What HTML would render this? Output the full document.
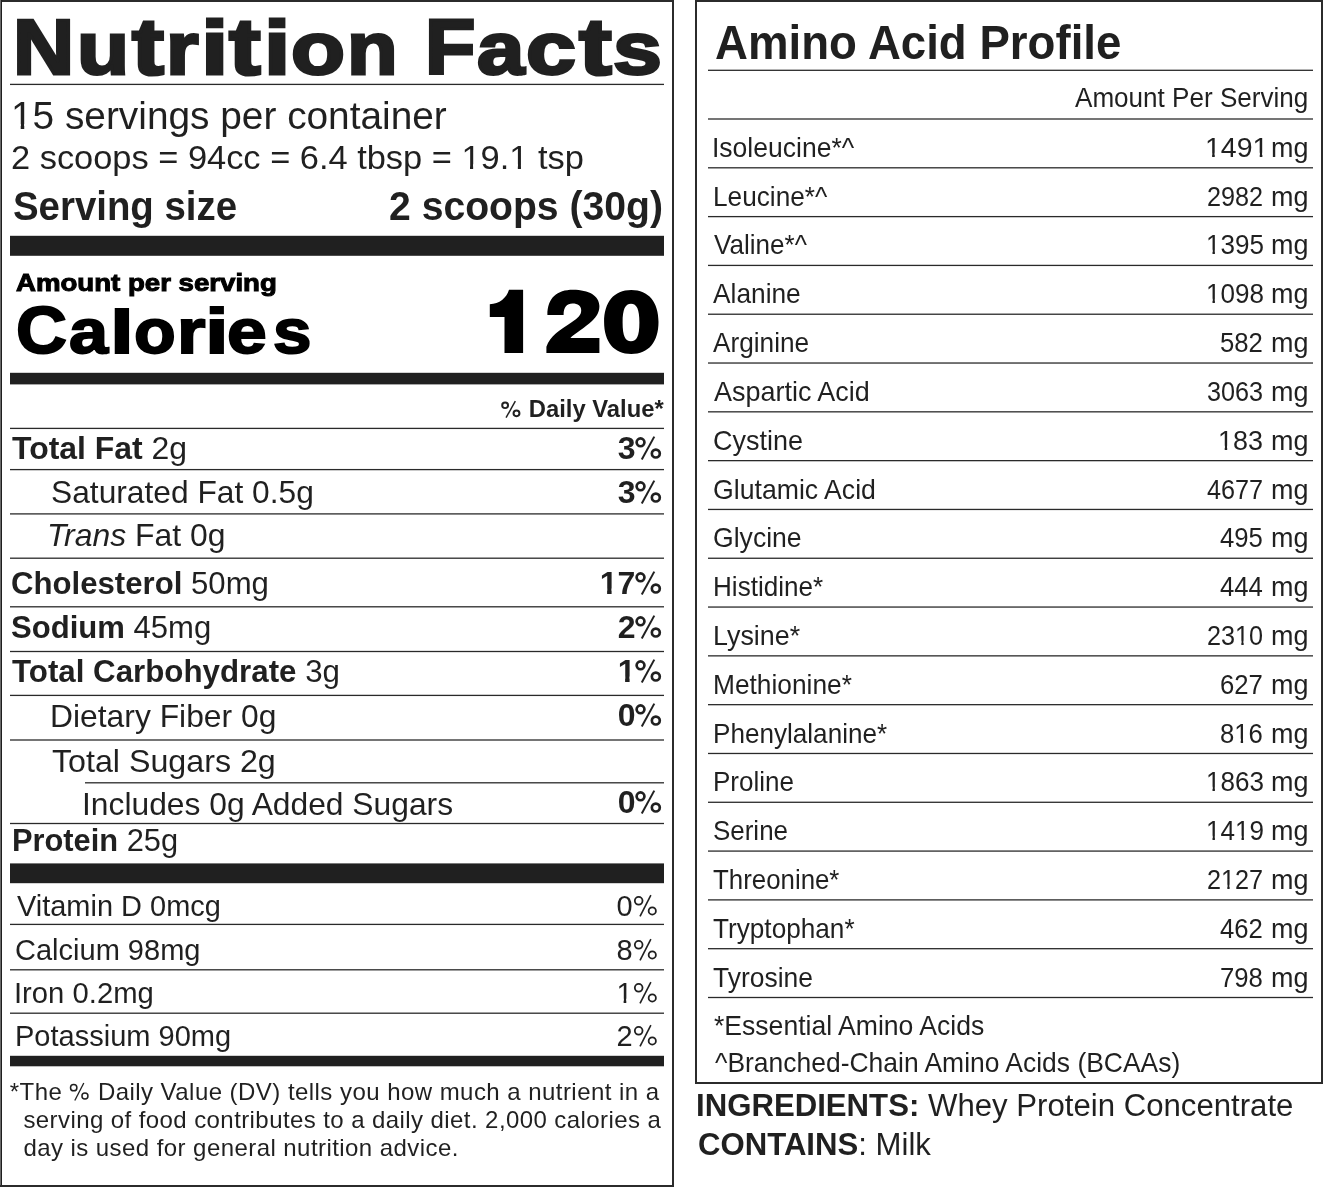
<!DOCTYPE html>
<html><head><meta charset="utf-8"><style>
html,body{margin:0;padding:0;background:#fff;}
body{position:relative;overflow:hidden;font-family:"Liberation Sans",sans-serif;}
#w{position:absolute;left:0;top:0;width:1324px;height:1188px;background:#fff;filter:grayscale(1);}
.t{position:absolute;white-space:nowrap;transform-origin:0 0;}
.t b{font-weight:700} .t i{font-style:italic}
.r{position:absolute}
body{width:1324px;height:1188px;}
</style></head><body><div id="w">
<div class="r" style="left:0px;top:0px;width:674px;height:2px;background:#2b2b2b"></div>
<div class="r" style="left:0px;top:0px;width:1px;height:1187px;background:#6a6a6a"></div>
<div class="r" style="left:1px;top:0px;width:1px;height:1187px;background:#1e1e1e"></div>
<div class="r" style="left:672px;top:0px;width:2px;height:1187px;background:#2b2b2b"></div>
<div class="r" style="left:0px;top:1185px;width:674px;height:2px;background:#2b2b2b"></div>
<div class="r" style="left:10px;top:83px;width:654px;height:1px;background:rgb(202, 202, 202)"></div>
<div class="r" style="left:10px;top:84px;width:654px;height:1px;background:rgb(42, 42, 42)"></div>
<div class="r" style="left:10px;top:85px;width:654px;height:1px;background:rgb(244, 244, 244)"></div>
<div class="r" style="left:10px;top:236px;width:654px;height:19px;background:rgb(35, 31, 32)"></div>
<div class="r" style="left:10px;top:235px;width:654px;height:1px;background:rgb(211, 210, 210)"></div>
<div class="r" style="left:10px;top:255px;width:654px;height:1px;background:rgb(79, 76, 77)"></div>
<div class="r" style="left:10px;top:373px;width:654px;height:11px;background:rgb(35, 31, 32)"></div>
<div class="r" style="left:10px;top:372px;width:654px;height:1px;background:rgb(211, 210, 210)"></div>
<div class="r" style="left:10px;top:384px;width:654px;height:1px;background:rgb(167, 165, 166)"></div>
<div class="r" style="left:10px;top:427px;width:654px;height:1px;background:rgb(202, 202, 202)"></div>
<div class="r" style="left:10px;top:428px;width:654px;height:1px;background:rgb(42, 42, 42)"></div>
<div class="r" style="left:10px;top:429px;width:654px;height:1px;background:rgb(244, 244, 244)"></div>
<div class="r" style="left:10px;top:468px;width:654px;height:1px;background:rgb(244, 244, 244)"></div>
<div class="r" style="left:10px;top:469px;width:654px;height:1px;background:rgb(42, 42, 42)"></div>
<div class="r" style="left:10px;top:470px;width:654px;height:1px;background:rgb(202, 202, 202)"></div>
<div class="r" style="left:10px;top:513px;width:654px;height:1px;background:rgb(95, 95, 95)"></div>
<div class="r" style="left:10px;top:514px;width:654px;height:1px;background:rgb(138, 138, 138)"></div>
<div class="r" style="left:10px;top:557px;width:654px;height:1px;background:rgb(159, 159, 159)"></div>
<div class="r" style="left:10px;top:558px;width:654px;height:1px;background:rgb(74, 74, 74)"></div>
<div class="r" style="left:10px;top:606px;width:654px;height:1px;background:rgb(74, 74, 74)"></div>
<div class="r" style="left:10px;top:607px;width:654px;height:1px;background:rgb(159, 159, 159)"></div>
<div class="r" style="left:10px;top:650px;width:654px;height:1px;background:rgb(223, 223, 223)"></div>
<div class="r" style="left:10px;top:651px;width:654px;height:1px;background:rgb(42, 42, 42)"></div>
<div class="r" style="left:10px;top:652px;width:654px;height:1px;background:rgb(223, 223, 223)"></div>
<div class="r" style="left:10px;top:694px;width:654px;height:1px;background:rgb(202, 202, 202)"></div>
<div class="r" style="left:10px;top:695px;width:654px;height:1px;background:rgb(42, 42, 42)"></div>
<div class="r" style="left:10px;top:696px;width:654px;height:1px;background:rgb(244, 244, 244)"></div>
<div class="r" style="left:10px;top:739px;width:654px;height:1px;background:rgb(117, 117, 117)"></div>
<div class="r" style="left:10px;top:740px;width:654px;height:1px;background:rgb(117, 117, 117)"></div>
<div class="r" style="left:10px;top:822px;width:654px;height:1px;background:rgb(223, 223, 223)"></div>
<div class="r" style="left:10px;top:823px;width:654px;height:1px;background:rgb(42, 42, 42)"></div>
<div class="r" style="left:10px;top:824px;width:654px;height:1px;background:rgb(223, 223, 223)"></div>
<div class="r" style="left:85px;top:782px;width:579px;height:1px;background:rgb(74, 74, 74)"></div>
<div class="r" style="left:85px;top:783px;width:579px;height:1px;background:rgb(159, 159, 159)"></div>
<div class="r" style="left:10px;top:864px;width:654px;height:19px;background:rgb(35, 31, 32)"></div>
<div class="r" style="left:10px;top:863px;width:654px;height:1px;background:rgb(123, 121, 121)"></div>
<div class="r" style="left:10px;top:883px;width:654px;height:1px;background:rgb(211, 210, 210)"></div>
<div class="r" style="left:10px;top:923px;width:654px;height:1px;background:rgb(202, 202, 202)"></div>
<div class="r" style="left:10px;top:924px;width:654px;height:1px;background:rgb(42, 42, 42)"></div>
<div class="r" style="left:10px;top:925px;width:654px;height:1px;background:rgb(244, 244, 244)"></div>
<div class="r" style="left:10px;top:969px;width:654px;height:1px;background:rgb(74, 74, 74)"></div>
<div class="r" style="left:10px;top:970px;width:654px;height:1px;background:rgb(159, 159, 159)"></div>
<div class="r" style="left:10px;top:1012px;width:654px;height:1px;background:rgb(159, 159, 159)"></div>
<div class="r" style="left:10px;top:1013px;width:654px;height:1px;background:rgb(74, 74, 74)"></div>
<div class="r" style="left:10px;top:1056px;width:654px;height:10px;background:rgb(35, 31, 32)"></div>
<div class="r" style="left:10px;top:1055px;width:654px;height:1px;background:rgb(211, 210, 210)"></div>
<div class="r" style="left:10px;top:1066px;width:654px;height:1px;background:rgb(189, 188, 188)"></div>
<div class="r" style="left:695px;top:0px;width:628px;height:2px;background:#2b2b2b"></div>
<div class="r" style="left:695px;top:0px;width:2px;height:1084px;background:#2b2b2b"></div>
<div class="r" style="left:1321px;top:0px;width:2px;height:1084px;background:#2b2b2b"></div>
<div class="r" style="left:695px;top:1082px;width:628px;height:2px;background:#2b2b2b"></div>
<div class="r" style="left:708px;top:69px;width:605px;height:1px;background:rgb(180, 180, 180)"></div>
<div class="r" style="left:708px;top:70px;width:605px;height:1px;background:rgb(53, 53, 53)"></div>
<div class="r" style="left:708px;top:118px;width:605px;height:1px;background:rgb(117, 117, 117)"></div>
<div class="r" style="left:708px;top:119px;width:605px;height:1px;background:rgb(117, 117, 117)"></div>
<div class="r" style="left:708px;top:167px;width:605px;height:1px;background:rgb(75, 75, 75)"></div>
<div class="r" style="left:708px;top:168px;width:605px;height:1px;background:rgb(158, 158, 158)"></div>
<div class="r" style="left:708px;top:215px;width:605px;height:1px;background:rgb(247, 247, 247)"></div>
<div class="r" style="left:708px;top:216px;width:605px;height:1px;background:rgb(42, 42, 42)"></div>
<div class="r" style="left:708px;top:217px;width:605px;height:1px;background:rgb(199, 199, 199)"></div>
<div class="r" style="left:708px;top:264px;width:605px;height:1px;background:rgb(205, 205, 205)"></div>
<div class="r" style="left:708px;top:265px;width:605px;height:1px;background:rgb(42, 42, 42)"></div>
<div class="r" style="left:708px;top:266px;width:605px;height:1px;background:rgb(241, 241, 241)"></div>
<div class="r" style="left:708px;top:313px;width:605px;height:1px;background:rgb(164, 164, 164)"></div>
<div class="r" style="left:708px;top:314px;width:605px;height:1px;background:rgb(69, 69, 69)"></div>
<div class="r" style="left:708px;top:362px;width:605px;height:1px;background:rgb(122, 122, 122)"></div>
<div class="r" style="left:708px;top:363px;width:605px;height:1px;background:rgb(111, 111, 111)"></div>
<div class="r" style="left:708px;top:411px;width:605px;height:1px;background:rgb(81, 81, 81)"></div>
<div class="r" style="left:708px;top:412px;width:605px;height:1px;background:rgb(152, 152, 152)"></div>
<div class="r" style="left:708px;top:460px;width:605px;height:1px;background:rgb(42, 42, 42)"></div>
<div class="r" style="left:708px;top:461px;width:605px;height:1px;background:rgb(193, 193, 193)"></div>
<div class="r" style="left:708px;top:508px;width:605px;height:1px;background:rgb(211, 211, 211)"></div>
<div class="r" style="left:708px;top:509px;width:605px;height:1px;background:rgb(42, 42, 42)"></div>
<div class="r" style="left:708px;top:510px;width:605px;height:1px;background:rgb(235, 235, 235)"></div>
<div class="r" style="left:708px;top:557px;width:605px;height:1px;background:rgb(170, 170, 170)"></div>
<div class="r" style="left:708px;top:558px;width:605px;height:1px;background:rgb(63, 63, 63)"></div>
<div class="r" style="left:708px;top:606px;width:605px;height:1px;background:rgb(128, 128, 128)"></div>
<div class="r" style="left:708px;top:607px;width:605px;height:1px;background:rgb(105, 105, 105)"></div>
<div class="r" style="left:708px;top:655px;width:605px;height:1px;background:rgb(87, 87, 87)"></div>
<div class="r" style="left:708px;top:656px;width:605px;height:1px;background:rgb(146, 146, 146)"></div>
<div class="r" style="left:708px;top:704px;width:605px;height:1px;background:rgb(46, 46, 46)"></div>
<div class="r" style="left:708px;top:705px;width:605px;height:1px;background:rgb(188, 188, 188)"></div>
<div class="r" style="left:708px;top:752px;width:605px;height:1px;background:rgb(217, 217, 217)"></div>
<div class="r" style="left:708px;top:753px;width:605px;height:1px;background:rgb(42, 42, 42)"></div>
<div class="r" style="left:708px;top:754px;width:605px;height:1px;background:rgb(229, 229, 229)"></div>
<div class="r" style="left:708px;top:801px;width:605px;height:1px;background:rgb(176, 176, 176)"></div>
<div class="r" style="left:708px;top:802px;width:605px;height:1px;background:rgb(57, 57, 57)"></div>
<div class="r" style="left:708px;top:850px;width:605px;height:1px;background:rgb(134, 134, 134)"></div>
<div class="r" style="left:708px;top:851px;width:605px;height:1px;background:rgb(99, 99, 99)"></div>
<div class="r" style="left:708px;top:899px;width:605px;height:1px;background:rgb(93, 93, 93)"></div>
<div class="r" style="left:708px;top:900px;width:605px;height:1px;background:rgb(140, 140, 140)"></div>
<div class="r" style="left:708px;top:948px;width:605px;height:1px;background:rgb(51, 51, 51)"></div>
<div class="r" style="left:708px;top:949px;width:605px;height:1px;background:rgb(182, 182, 182)"></div>
<div class="r" style="left:708px;top:996px;width:605px;height:1px;background:rgb(223, 223, 223)"></div>
<div class="r" style="left:708px;top:997px;width:605px;height:1px;background:rgb(42, 42, 42)"></div>
<div class="r" style="left:708px;top:998px;width:605px;height:1px;background:rgb(223, 223, 223)"></div>
<div class="t" style="left:13.16px;top:8px;font-size:78px;line-height:78px;color:#231f20;-webkit-text-stroke:3px #231f20;transform-origin:0 66px;transform:scale(1.0857,1.0000);"><b>N</b></div>
<div class="t" style="left:77.31px;top:8px;font-size:78px;line-height:78px;color:#231f20;-webkit-text-stroke:3px #231f20;transform-origin:0 66px;transform:scale(1.0951,0.9400);"><b>u</b></div>
<div class="t" style="left:131.73px;top:8px;font-size:78px;line-height:78px;color:#231f20;-webkit-text-stroke:3px #231f20;transform-origin:0 66px;transform:scale(1.2296,1.0300);"><b>t</b></div>
<div class="t" style="left:166.10px;top:8px;font-size:78px;line-height:78px;color:#231f20;-webkit-text-stroke:3px #231f20;transform-origin:0 66px;transform:scale(1.0741,0.9400);"><b>r</b></div>
<div class="t" style="left:201.24px;top:8px;font-size:78px;line-height:78px;color:#231f20;-webkit-text-stroke:3px #231f20;transform-origin:0 66px;transform:scale(1.2643,0.9700);"><b>i</b></div>
<div class="t" style="left:229.22px;top:8px;font-size:78px;line-height:78px;color:#231f20;-webkit-text-stroke:3px #231f20;transform-origin:0 66px;transform:scale(1.2185,1.0300);"><b>t</b></div>
<div class="t" style="left:263.94px;top:8px;font-size:78px;line-height:78px;color:#231f20;-webkit-text-stroke:3px #231f20;transform-origin:0 66px;transform:scale(1.2143,0.9700);"><b>i</b></div>
<div class="t" style="left:291.43px;top:8px;font-size:78px;line-height:78px;color:#231f20;-webkit-text-stroke:3px #231f20;transform-origin:0 66px;transform:scale(1.1341,0.9400);"><b>o</b></div>
<div class="t" style="left:347.25px;top:8px;font-size:78px;line-height:78px;color:#231f20;-webkit-text-stroke:3px #231f20;transform-origin:0 66px;transform:scale(1.0625,0.9400);"><b>n</b></div>
<div class="t" style="left:425.17px;top:8px;font-size:78px;line-height:78px;color:#231f20;-webkit-text-stroke:3px #231f20;transform-origin:0 66px;transform:scale(1.0571,1.0000);"><b>F</b></div>
<div class="t" style="left:476.51px;top:8px;font-size:78px;line-height:78px;color:#231f20;-webkit-text-stroke:3px #231f20;transform-origin:0 66px;transform:scale(1.0932,0.9400);"><b>a</b></div>
<div class="t" style="left:526.30px;top:8px;font-size:78px;line-height:78px;color:#231f20;-webkit-text-stroke:3px #231f20;transform-origin:0 66px;transform:scale(1.1512,0.9400);"><b>c</b></div>
<div class="t" style="left:578.96px;top:8px;font-size:78px;line-height:78px;color:#231f20;-webkit-text-stroke:3px #231f20;transform-origin:0 66px;transform:scale(1.2593,1.0300);"><b>t</b></div>
<div class="t" style="left:613.37px;top:8px;font-size:78px;line-height:78px;color:#231f20;-webkit-text-stroke:3px #231f20;transform-origin:0 66px;transform:scale(1.1268,0.9400);"><b>s</b></div>
<div class="t" style="left:11.41px;top:97px;font-size:38px;line-height:38px;color:#231f20;transform:scaleX(1.0213);"><span style="display:inline-block;clip-path:polygon(-3px -60px,24.13px -60px,24.13px 26.96px,12.96px 26.96px,12.96px 98px,9.51px 98px,9.51px 26.96px,-3px 26.96px)">1</span>5 servings per container</div>
<div class="t" style="left:11.22px;top:141px;font-size:33px;line-height:33px;color:#231f20;transform:scaleX(1.0425);">2 scoops = 94cc = 6.4 tbsp = <span style="display:inline-block;clip-path:polygon(-3px -60px,21.35px -60px,21.35px 23.33px,11.26px 23.33px,11.26px 93px,8.25px 93px,8.25px 23.33px,-3px 23.33px)">1</span>9.<span style="display:inline-block;clip-path:polygon(-3px -60px,21.35px -60px,21.35px 23.33px,11.26px 23.33px,11.26px 93px,8.25px 93px,8.25px 23.33px,-3px 23.33px)">1</span> tsp</div>
<div class="t" style="left:12.94px;top:186px;font-size:40px;line-height:40px;color:#231f20;transform:scaleX(0.9597);"><b>Serving size</b></div>
<div class="t" style="left:389.02px;top:186px;font-size:40px;line-height:40px;color:#231f20;transform:scaleX(0.9783);"><b>2 scoops (30g)</b></div>
<div class="t" style="left:15.70px;top:271px;font-size:24px;line-height:24px;color:#000;-webkit-text-stroke:1px #000;transform:scaleX(1.1504);"><b>Amount per serving</b></div>
<div class="t" style="left:16.43px;top:295px;font-size:68px;line-height:68px;color:#000;-webkit-text-stroke:2px #000;transform-origin:0 58px;transform:scale(1.0370,0.9800);"><b>C</b></div>
<div class="t" style="left:68.77px;top:295px;font-size:68px;line-height:68px;color:#000;-webkit-text-stroke:2px #000;transform-origin:0 58px;transform:scale(1.0342,0.9300);"><b>a</b></div>
<div class="t" style="left:110.05px;top:295px;font-size:68px;line-height:68px;color:#000;-webkit-text-stroke:2px #000;transform-origin:0 58px;transform:scale(1.2636,0.9100);"><b>l</b></div>
<div class="t" style="left:133.69px;top:295px;font-size:68px;line-height:68px;color:#000;-webkit-text-stroke:2px #000;transform-origin:0 58px;transform:scale(1.0053,0.9300);"><b>o</b></div>
<div class="t" style="left:176.67px;top:295px;font-size:68px;line-height:68px;color:#000;-webkit-text-stroke:2px #000;transform-origin:0 58px;transform:scale(1.0783,0.9300);"><b>r</b></div>
<div class="t" style="left:205.18px;top:295px;font-size:68px;line-height:68px;color:#000;-webkit-text-stroke:2px #000;transform-origin:0 58px;transform:scale(1.2545,0.9300);"><b>i</b></div>
<div class="t" style="left:227.40px;top:295px;font-size:68px;line-height:68px;color:#000;-webkit-text-stroke:2px #000;transform-origin:0 58px;transform:scale(1.0514,0.9300);"><b>e</b></div>
<div class="t" style="left:272.58px;top:295px;font-size:68px;line-height:68px;color:#000;-webkit-text-stroke:2px #000;transform-origin:0 58px;transform:scale(1.0171,0.9300);"><b>s</b></div>
<div class="t" style="left:500.50px;top:398px;font-size:23px;line-height:23px;color:#231f20;transform:scaleX(1.0350);"><b><svg style="display:inline-block;width:0.889em;height:0.75em;vertical-align:baseline;overflow:visible" viewBox="0 0 889 750"><g fill="none" stroke="currentColor"><circle cx="173" cy="230" r="122" stroke-width="84"/><circle cx="651" cy="580" r="124" stroke-width="84"/><line x1="603" y1="50" x2="212" y2="766" stroke-width="62"/></g></svg> Daily Value*</b></div>
<div class="t" style="left:11.80px;top:432px;font-size:32px;line-height:32px;color:#231f20;transform:scaleX(0.9983);"><b>Total Fat</b> 2g</div>
<div class="t" style="left:617.70px;top:432px;font-size:32px;line-height:32px;color:#231f20;"><b>3<svg style="display:inline-block;width:0.889em;height:0.75em;vertical-align:baseline;overflow:visible" viewBox="0 0 889 750"><g fill="none" stroke="currentColor"><circle cx="173" cy="230" r="122" stroke-width="84"/><circle cx="651" cy="580" r="124" stroke-width="84"/><line x1="603" y1="50" x2="212" y2="766" stroke-width="62"/></g></svg></b></div>
<div class="t" style="left:51.22px;top:476px;font-size:32px;line-height:32px;color:#231f20;transform:scaleX(0.9916);">Saturated Fat 0.5g</div>
<div class="t" style="left:617.70px;top:476px;font-size:32px;line-height:32px;color:#231f20;"><b>3<svg style="display:inline-block;width:0.889em;height:0.75em;vertical-align:baseline;overflow:visible" viewBox="0 0 889 750"><g fill="none" stroke="currentColor"><circle cx="173" cy="230" r="122" stroke-width="84"/><circle cx="651" cy="580" r="124" stroke-width="84"/><line x1="603" y1="50" x2="212" y2="766" stroke-width="62"/></g></svg></b></div>
<div class="t" style="left:47.01px;top:519px;font-size:32px;line-height:32px;color:#231f20;transform:scaleX(0.9966);"><i>Trans</i> Fat 0g</div>
<div class="t" style="left:11.03px;top:567px;font-size:32px;line-height:32px;color:#231f20;transform:scaleX(0.9733);"><b>Cholesterol</b> 50mg</div>
<div class="t" style="left:599.70px;top:567px;font-size:32px;line-height:32px;color:#231f20;"><b><span style="display:inline-block;clip-path:polygon(-3px -60px,20.80px -60px,20.80px 21.53px,11.91px 21.53px,11.91px 92px,7.42px 92px,7.42px 21.53px,-3px 21.53px)">1</span>7<svg style="display:inline-block;width:0.889em;height:0.75em;vertical-align:baseline;overflow:visible" viewBox="0 0 889 750"><g fill="none" stroke="currentColor"><circle cx="173" cy="230" r="122" stroke-width="84"/><circle cx="651" cy="580" r="124" stroke-width="84"/><line x1="603" y1="50" x2="212" y2="766" stroke-width="62"/></g></svg></b></div>
<div class="t" style="left:11.03px;top:611px;font-size:32px;line-height:32px;color:#231f20;transform:scaleX(0.9704);"><b>Sodium</b> 45mg</div>
<div class="t" style="left:617.70px;top:611px;font-size:32px;line-height:32px;color:#231f20;"><b>2<svg style="display:inline-block;width:0.889em;height:0.75em;vertical-align:baseline;overflow:visible" viewBox="0 0 889 750"><g fill="none" stroke="currentColor"><circle cx="173" cy="230" r="122" stroke-width="84"/><circle cx="651" cy="580" r="124" stroke-width="84"/><line x1="603" y1="50" x2="212" y2="766" stroke-width="62"/></g></svg></b></div>
<div class="t" style="left:12.00px;top:655px;font-size:32px;line-height:32px;color:#231f20;transform:scaleX(0.9775);"><b>Total Carbohydrate</b> 3g</div>
<div class="t" style="left:617.70px;top:655px;font-size:32px;line-height:32px;color:#231f20;"><b><span style="display:inline-block;clip-path:polygon(-3px -60px,20.80px -60px,20.80px 21.53px,11.91px 21.53px,11.91px 92px,7.42px 92px,7.42px 21.53px,-3px 21.53px)">1</span><svg style="display:inline-block;width:0.889em;height:0.75em;vertical-align:baseline;overflow:visible" viewBox="0 0 889 750"><g fill="none" stroke="currentColor"><circle cx="173" cy="230" r="122" stroke-width="84"/><circle cx="651" cy="580" r="124" stroke-width="84"/><line x1="603" y1="50" x2="212" y2="766" stroke-width="62"/></g></svg></b></div>
<div class="t" style="left:49.62px;top:700px;font-size:32px;line-height:32px;color:#231f20;transform:scaleX(0.9946);">Dietary Fiber 0g</div>
<div class="t" style="left:617.70px;top:699px;font-size:32px;line-height:32px;color:#231f20;"><b>0<svg style="display:inline-block;width:0.889em;height:0.75em;vertical-align:baseline;overflow:visible" viewBox="0 0 889 750"><g fill="none" stroke="currentColor"><circle cx="173" cy="230" r="122" stroke-width="84"/><circle cx="651" cy="580" r="124" stroke-width="84"/><line x1="603" y1="50" x2="212" y2="766" stroke-width="62"/></g></svg></b></div>
<div class="t" style="left:51.59px;top:745px;font-size:32px;line-height:32px;color:#231f20;transform:scaleX(1.0064);">Total Sugars 2g</div>
<div class="t" style="left:81.72px;top:788px;font-size:32px;line-height:32px;color:#231f20;transform:scaleX(0.9932);">Includes 0g Added Sugars</div>
<div class="t" style="left:617.70px;top:786px;font-size:32px;line-height:32px;color:#231f20;"><b>0<svg style="display:inline-block;width:0.889em;height:0.75em;vertical-align:baseline;overflow:visible" viewBox="0 0 889 750"><g fill="none" stroke="currentColor"><circle cx="173" cy="230" r="122" stroke-width="84"/><circle cx="651" cy="580" r="124" stroke-width="84"/><line x1="603" y1="50" x2="212" y2="766" stroke-width="62"/></g></svg></b></div>
<div class="t" style="left:12.07px;top:824px;font-size:32px;line-height:32px;color:#231f20;transform:scaleX(0.9627);"><b>Protein</b> 25g</div>
<div class="t" style="left:16.70px;top:892px;font-size:29px;line-height:29px;color:#231f20;transform:scaleX(0.9985);">Vitamin D 0mcg</div>
<div class="t" style="left:616.40px;top:892px;font-size:29px;line-height:29px;color:#231f20;">0<svg style="display:inline-block;width:0.889em;height:0.75em;vertical-align:baseline;overflow:visible" viewBox="0 0 889 750"><g fill="none" stroke="currentColor"><circle cx="196" cy="235" r="133" stroke-width="62"/><circle cx="665" cy="583" r="125" stroke-width="62"/><line x1="617" y1="40" x2="242" y2="768" stroke-width="55"/></g></svg></div>
<div class="t" style="left:15.30px;top:936px;font-size:29px;line-height:29px;color:#231f20;transform:scaleX(1.0005);">Calcium 98mg</div>
<div class="t" style="left:616.40px;top:936px;font-size:29px;line-height:29px;color:#231f20;">8<svg style="display:inline-block;width:0.889em;height:0.75em;vertical-align:baseline;overflow:visible" viewBox="0 0 889 750"><g fill="none" stroke="currentColor"><circle cx="196" cy="235" r="133" stroke-width="62"/><circle cx="665" cy="583" r="125" stroke-width="62"/><line x1="617" y1="40" x2="242" y2="768" stroke-width="55"/></g></svg></div>
<div class="t" style="left:14.18px;top:979px;font-size:29px;line-height:29px;color:#231f20;transform:scaleX(1.0082);">Iron 0.2mg</div>
<div class="t" style="left:616.40px;top:979px;font-size:29px;line-height:29px;color:#231f20;"><span style="display:inline-block;clip-path:polygon(-3px -60px,19.13px -60px,19.13px 19.63px,9.91px 19.63px,9.91px 89px,7.24px 89px,7.24px 19.63px,-3px 19.63px)">1</span><svg style="display:inline-block;width:0.889em;height:0.75em;vertical-align:baseline;overflow:visible" viewBox="0 0 889 750"><g fill="none" stroke="currentColor"><circle cx="196" cy="235" r="133" stroke-width="62"/><circle cx="665" cy="583" r="125" stroke-width="62"/><line x1="617" y1="40" x2="242" y2="768" stroke-width="55"/></g></svg></div>
<div class="t" style="left:15.20px;top:1022px;font-size:29px;line-height:29px;color:#231f20;transform:scaleX(1.0005);">Potassium 90mg</div>
<div class="t" style="left:616.40px;top:1022px;font-size:29px;line-height:29px;color:#231f20;">2<svg style="display:inline-block;width:0.889em;height:0.75em;vertical-align:baseline;overflow:visible" viewBox="0 0 889 750"><g fill="none" stroke="currentColor"><circle cx="196" cy="235" r="133" stroke-width="62"/><circle cx="665" cy="583" r="125" stroke-width="62"/><line x1="617" y1="40" x2="242" y2="768" stroke-width="55"/></g></svg></div>
<div class="t" style="left:9.80px;top:1080px;font-size:24px;line-height:24px;color:#231f20;letter-spacing:0.454px;">*The <svg style="display:inline-block;width:0.889em;height:0.75em;vertical-align:baseline;overflow:visible" viewBox="0 0 889 750"><g fill="none" stroke="currentColor"><circle cx="196" cy="235" r="133" stroke-width="62"/><circle cx="665" cy="583" r="125" stroke-width="62"/><line x1="617" y1="40" x2="242" y2="768" stroke-width="55"/></g></svg> Daily Value (DV) tells you how much a nutrient in a</div>
<div class="t" style="left:23.40px;top:1108px;font-size:24px;line-height:24px;color:#231f20;letter-spacing:0.418px;">serving of food contributes to a daily diet. 2,000 calories a</div>
<div class="t" style="left:23.40px;top:1136px;font-size:24px;line-height:24px;color:#231f20;letter-spacing:0.435px;">day is used for general nutrition advice.</div>
<div class="t" style="left:715.37px;top:18px;font-size:49px;line-height:49px;color:#231f20;transform:scaleX(0.9309);"><b>Amino Acid Profile</b></div>
<div class="t" style="left:1074.70px;top:85px;font-size:27px;line-height:27px;color:#231f20;transform:scaleX(0.9658);">Amount Per Serving</div>
<div class="t" style="left:711.96px;top:134px;font-size:28px;line-height:28px;color:#231f20;transform:scaleX(0.9469);">Isoleucine*^</div>
<div class="t" style="left:1205.24px;top:134px;font-size:28px;line-height:28px;color:#231f20;transform:scaleX(1.0189);"><span style="display:inline-block;clip-path:polygon(-3px -60px,18.57px -60px,18.57px 18.71px,9.57px 18.71px,9.57px 88px,6.99px 88px,6.99px 18.71px,-3px 18.71px)">1</span>49<span style="display:inline-block;clip-path:polygon(-3px -60px,18.57px -60px,18.57px 18.71px,9.57px 18.71px,9.57px 88px,6.99px 88px,6.99px 18.71px,-3px 18.71px)">1</span></div>
<div class="t" style="left:1270.57px;top:134px;font-size:28px;line-height:28px;color:#231f20;transform:scaleX(0.9629);">mg</div>
<div class="t" style="left:712.63px;top:183px;font-size:28px;line-height:28px;color:#231f20;transform:scaleX(0.9367);">Leucine*^</div>
<div class="t" style="left:1207.40px;top:183px;font-size:28px;line-height:28px;color:#231f20;transform:scaleX(0.9000);">2982</div>
<div class="t" style="left:1270.57px;top:183px;font-size:28px;line-height:28px;color:#231f20;transform:scaleX(0.9629);">mg</div>
<div class="t" style="left:714.10px;top:231px;font-size:28px;line-height:28px;color:#231f20;transform:scaleX(0.9310);">Valine*^</div>
<div class="t" style="left:1205.51px;top:231px;font-size:28px;line-height:28px;color:#231f20;transform:scaleX(0.9310);"><span style="display:inline-block;clip-path:polygon(-3px -60px,18.57px -60px,18.57px 18.71px,9.57px 18.71px,9.57px 88px,6.99px 88px,6.99px 18.71px,-3px 18.71px)">1</span>395</div>
<div class="t" style="left:1270.57px;top:231px;font-size:28px;line-height:28px;color:#231f20;transform:scaleX(0.9629);">mg</div>
<div class="t" style="left:713.30px;top:280px;font-size:28px;line-height:28px;color:#231f20;transform:scaleX(0.9391);">Alanine</div>
<div class="t" style="left:1205.51px;top:280px;font-size:28px;line-height:28px;color:#231f20;transform:scaleX(0.9310);"><span style="display:inline-block;clip-path:polygon(-3px -60px,18.57px -60px,18.57px 18.71px,9.57px 18.71px,9.57px 88px,6.99px 88px,6.99px 18.71px,-3px 18.71px)">1</span>098</div>
<div class="t" style="left:1270.57px;top:280px;font-size:28px;line-height:28px;color:#231f20;transform:scaleX(0.9629);">mg</div>
<div class="t" style="left:713.30px;top:329px;font-size:28px;line-height:28px;color:#231f20;transform:scaleX(0.9363);">Arginine</div>
<div class="t" style="left:1220.08px;top:329px;font-size:28px;line-height:28px;color:#231f20;transform:scaleX(0.9178);">582</div>
<div class="t" style="left:1270.57px;top:329px;font-size:28px;line-height:28px;color:#231f20;transform:scaleX(0.9629);">mg</div>
<div class="t" style="left:713.50px;top:378px;font-size:28px;line-height:28px;color:#231f20;transform:scaleX(0.9625);">Aspartic Acid</div>
<div class="t" style="left:1207.40px;top:378px;font-size:28px;line-height:28px;color:#231f20;transform:scaleX(0.9000);">3063</div>
<div class="t" style="left:1270.57px;top:378px;font-size:28px;line-height:28px;color:#231f20;transform:scaleX(0.9629);">mg</div>
<div class="t" style="left:713.34px;top:427px;font-size:28px;line-height:28px;color:#231f20;transform:scaleX(0.9626);">Cystine</div>
<div class="t" style="left:1218.12px;top:427px;font-size:28px;line-height:28px;color:#231f20;transform:scaleX(0.9605);"><span style="display:inline-block;clip-path:polygon(-3px -60px,18.57px -60px,18.57px 18.71px,9.57px 18.71px,9.57px 88px,6.99px 88px,6.99px 18.71px,-3px 18.71px)">1</span>83</div>
<div class="t" style="left:1270.57px;top:427px;font-size:28px;line-height:28px;color:#231f20;transform:scaleX(0.9629);">mg</div>
<div class="t" style="left:713.35px;top:476px;font-size:28px;line-height:28px;color:#231f20;transform:scaleX(0.9518);">Glutamic Acid</div>
<div class="t" style="left:1207.40px;top:476px;font-size:28px;line-height:28px;color:#231f20;transform:scaleX(0.9000);">4677</div>
<div class="t" style="left:1270.57px;top:476px;font-size:28px;line-height:28px;color:#231f20;transform:scaleX(0.9629);">mg</div>
<div class="t" style="left:713.35px;top:524px;font-size:28px;line-height:28px;color:#231f20;transform:scaleX(0.9495);">Glycine</div>
<div class="t" style="left:1220.08px;top:524px;font-size:28px;line-height:28px;color:#231f20;transform:scaleX(0.9178);">495</div>
<div class="t" style="left:1270.57px;top:524px;font-size:28px;line-height:28px;color:#231f20;transform:scaleX(0.9629);">mg</div>
<div class="t" style="left:712.94px;top:573px;font-size:28px;line-height:28px;color:#231f20;transform:scaleX(0.9319);">Histidine*</div>
<div class="t" style="left:1220.08px;top:573px;font-size:28px;line-height:28px;color:#231f20;transform:scaleX(0.9178);">444</div>
<div class="t" style="left:1270.57px;top:573px;font-size:28px;line-height:28px;color:#231f20;transform:scaleX(0.9629);">mg</div>
<div class="t" style="left:712.58px;top:622px;font-size:28px;line-height:28px;color:#231f20;transform:scaleX(0.9602);">Lysine*</div>
<div class="t" style="left:1207.40px;top:622px;font-size:28px;line-height:28px;color:#231f20;transform:scaleX(0.9000);">23<span style="display:inline-block;clip-path:polygon(-3px -60px,18.57px -60px,18.57px 18.71px,9.57px 18.71px,9.57px 88px,6.99px 88px,6.99px 18.71px,-3px 18.71px)">1</span>0</div>
<div class="t" style="left:1270.57px;top:622px;font-size:28px;line-height:28px;color:#231f20;transform:scaleX(0.9629);">mg</div>
<div class="t" style="left:712.62px;top:671px;font-size:28px;line-height:28px;color:#231f20;transform:scaleX(0.9393);">Methionine*</div>
<div class="t" style="left:1220.08px;top:671px;font-size:28px;line-height:28px;color:#231f20;transform:scaleX(0.9178);">627</div>
<div class="t" style="left:1270.57px;top:671px;font-size:28px;line-height:28px;color:#231f20;transform:scaleX(0.9629);">mg</div>
<div class="t" style="left:712.64px;top:720px;font-size:28px;line-height:28px;color:#231f20;transform:scaleX(0.9321);">Phenylalanine*</div>
<div class="t" style="left:1220.08px;top:720px;font-size:28px;line-height:28px;color:#231f20;transform:scaleX(0.9178);">8<span style="display:inline-block;clip-path:polygon(-3px -60px,18.57px -60px,18.57px 18.71px,9.57px 18.71px,9.57px 88px,6.99px 88px,6.99px 18.71px,-3px 18.71px)">1</span>6</div>
<div class="t" style="left:1270.57px;top:720px;font-size:28px;line-height:28px;color:#231f20;transform:scaleX(0.9629);">mg</div>
<div class="t" style="left:712.64px;top:768px;font-size:28px;line-height:28px;color:#231f20;transform:scaleX(0.9298);">Proline</div>
<div class="t" style="left:1205.51px;top:768px;font-size:28px;line-height:28px;color:#231f20;transform:scaleX(0.9310);"><span style="display:inline-block;clip-path:polygon(-3px -60px,18.57px -60px,18.57px 18.71px,9.57px 18.71px,9.57px 88px,6.99px 88px,6.99px 18.71px,-3px 18.71px)">1</span>863</div>
<div class="t" style="left:1270.57px;top:768px;font-size:28px;line-height:28px;color:#231f20;transform:scaleX(0.9629);">mg</div>
<div class="t" style="left:713.37px;top:817px;font-size:28px;line-height:28px;color:#231f20;transform:scaleX(0.9266);">Serine</div>
<div class="t" style="left:1205.51px;top:817px;font-size:28px;line-height:28px;color:#231f20;transform:scaleX(0.9310);"><span style="display:inline-block;clip-path:polygon(-3px -60px,18.57px -60px,18.57px 18.71px,9.57px 18.71px,9.57px 88px,6.99px 88px,6.99px 18.71px,-3px 18.71px)">1</span>4<span style="display:inline-block;clip-path:polygon(-3px -60px,18.57px -60px,18.57px 18.71px,9.57px 18.71px,9.57px 88px,6.99px 88px,6.99px 18.71px,-3px 18.71px)">1</span>9</div>
<div class="t" style="left:1270.57px;top:817px;font-size:28px;line-height:28px;color:#231f20;transform:scaleX(0.9629);">mg</div>
<div class="t" style="left:713.38px;top:866px;font-size:28px;line-height:28px;color:#231f20;transform:scaleX(0.9230);">Threonine*</div>
<div class="t" style="left:1207.40px;top:866px;font-size:28px;line-height:28px;color:#231f20;transform:scaleX(0.9000);">2<span style="display:inline-block;clip-path:polygon(-3px -60px,18.57px -60px,18.57px 18.71px,9.57px 18.71px,9.57px 88px,6.99px 88px,6.99px 18.71px,-3px 18.71px)">1</span>27</div>
<div class="t" style="left:1270.57px;top:866px;font-size:28px;line-height:28px;color:#231f20;transform:scaleX(0.9629);">mg</div>
<div class="t" style="left:713.37px;top:915px;font-size:28px;line-height:28px;color:#231f20;transform:scaleX(0.9347);">Tryptophan*</div>
<div class="t" style="left:1220.08px;top:915px;font-size:28px;line-height:28px;color:#231f20;transform:scaleX(0.9178);">462</div>
<div class="t" style="left:1270.57px;top:915px;font-size:28px;line-height:28px;color:#231f20;transform:scaleX(0.9629);">mg</div>
<div class="t" style="left:713.36px;top:964px;font-size:28px;line-height:28px;color:#231f20;transform:scaleX(0.9442);">Tyrosine</div>
<div class="t" style="left:1220.08px;top:964px;font-size:28px;line-height:28px;color:#231f20;transform:scaleX(0.9178);">798</div>
<div class="t" style="left:1270.57px;top:964px;font-size:28px;line-height:28px;color:#231f20;transform:scaleX(0.9629);">mg</div>
<div class="t" style="left:713.85px;top:1012px;font-size:28px;line-height:28px;color:#231f20;transform:scaleX(0.9488);">*Essential Amino Acids</div>
<div class="t" style="left:714.80px;top:1049px;font-size:28px;line-height:28px;color:#231f20;transform:scaleX(0.9448);">^Branched-Chain Amino Acids (BCAAs)</div>
<div class="t" style="left:696.49px;top:1090px;font-size:31px;line-height:31px;color:#231f20;transform:scaleX(1.0051);"><b>INGREDIENTS:</b> Whey Protein Concentrate</div>
<div class="t" style="left:697.50px;top:1129px;font-size:31px;line-height:31px;color:#231f20;transform:scaleX(1.0043);"><b>CONTAINS</b>: Milk</div>
<svg style="position:absolute;left:0;top:0" width="1324" height="1188" viewBox="0 0 1324 1188"><g fill="#000">
<path d="M504.5,352.9 L523.1,352.9 L523.1,289.8 L509,289.8 C506.5,298 499.5,304 489.8,304.2 L489.8,317 L504.5,317 Z"/>
<path d="M546.4,352.9 L599.4,352.9 L599.4,337.9 L570.4,337.9 C574,334 586,327 592,321 C597,316 599.4,312 599.4,306 C599.4,296 589,289.8 573,289.8 C557,289.8 547.4,298 547.4,314.9 L563.6,314.9 C563.6,307 567,303.6 572.4,303.6 C578,303.6 581.2,306 581.2,310.5 C581.2,315 578,318 572,322 C560,330 550,336 546.4,346.8 Z"/>
<path fill-rule="evenodd" d="M631.3,289.9 C648.7,289.9 658.5,302.1 658.5,321.9 C658.5,341.7 648.7,353.9 631.3,353.9 C613.9,353.9 604.1,341.7 604.1,321.9 C604.1,302.1 613.9,289.9 631.3,289.9 Z M631.0,303.7 C625.3,303.7 622.6,309.0 622.6,322.5 C622.6,336.0 625.3,341.3 631.0,341.3 C636.7,341.3 639.4,336.0 639.4,322.5 C639.4,309.0 636.7,303.7 631.0,303.7 Z"/>
</g></svg>
</div></body></html>
